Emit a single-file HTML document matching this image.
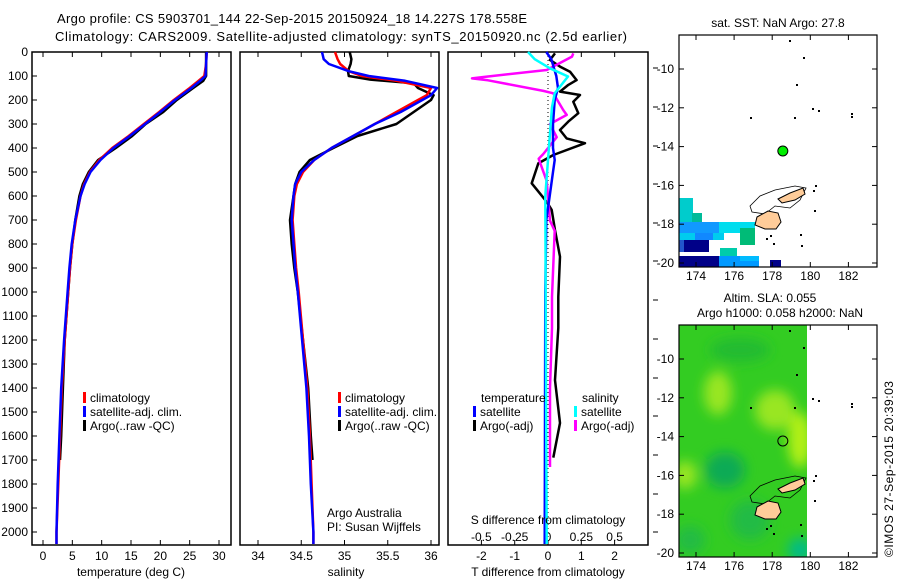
<!DOCTYPE html>
<html><head><meta charset="utf-8"><style>
html,body{margin:0;padding:0;background:#fff;}
svg{display:block;font-family:"Liberation Sans",sans-serif;}
</style></head><body>
<svg id="fig" width="900" height="580" viewBox="0 0 900 580" xmlns="http://www.w3.org/2000/svg">
<rect width="900" height="580" fill="#fff"/>
<text x="57" y="23" font-size="13" textLength="470">Argo profile: CS 5903701_144 22-Sep-2015 20150924_18 14.227S 178.558E</text>
<text x="55" y="41" font-size="13" textLength="572">Climatology: CARS2009. Satellite-adjusted climatology: synTS_20150920.nc (2.5d earlier)</text>
<g id="p1"></g>
<g id="p2"></g>
<g id="p3"></g>
<g id="m1"></g>
<g id="m2"></g>
<text transform="translate(893,557) rotate(-90)" font-size="12" textLength="176">©IMOS 27-Sep-2015 20:39:03</text>
</svg>
<script>
// ---- data ----
const depthClim = [0,50,100,120,150,200,250,300,350,400,450,500,550,600,700,800,900,1000,1200,1400,1600,1800,2000,2050];
const tempClim  = [27.9,27.8,27.5,26.5,25,22.3,19.8,17.2,14.6,11.8,9.6,8.0,7.0,6.4,5.6,5.0,4.6,4.3,3.7,3.2,2.9,2.6,2.3,2.3];
const tempSat   = [27.9,27.8,27.7,26.8,25.3,22.5,20,17.4,14.8,12,9.8,8.1,7.1,6.4,5.5,4.9,4.5,4.2,3.6,3.1,2.8,2.5,2.3,2.3];
const depthArgo = [0,50,100,120,150,200,250,300,350,400,450,500,550,600,700,800,900,1000,1200,1400,1600,1700];
const tempArgo  = [27.8,27.8,27.8,27.3,25.6,22.8,20.5,17.5,15.2,12.4,9.4,7.8,6.8,6.2,5.5,5.0,4.6,4.3,3.7,3.4,3.1,2.9];
const depthS    = [0,30,50,80,100,120,150,180,200,250,300,350,400,450,500,550,600,700,800,900,1000,1200,1400,1600,1800,2000,2050];
const salClim   = [34.89,34.92,34.95,35.05,35.2,35.6,36.0,35.95,35.85,35.6,35.35,35.1,34.85,34.65,34.52,34.45,34.42,34.4,34.42,34.44,34.47,34.52,34.57,34.6,34.62,34.64,34.64];
const salSat    = [34.74,34.76,34.82,35.05,35.28,35.7,36.07,36.0,35.9,35.65,35.35,35.1,34.85,34.65,34.5,34.43,34.41,34.39,34.41,34.43,34.46,34.51,34.56,34.59,34.61,34.64,34.64];
const depthSA   = [0,30,50,80,100,115,130,150,180,200,250,300,350,400,450,500,550,600,700,800,900,1000,1200,1400,1600,1700];
const salArgo   = [35.06,35.08,35.07,35.04,35.05,35.3,35.8,35.85,36.03,36.0,35.8,35.6,35.15,34.87,34.6,34.48,34.43,34.41,34.37,34.39,34.42,34.46,34.52,34.58,34.61,34.63];
const depthDT   = [6,33,61,82,117,137,165,179,207,255,290,325,360,380,429,464,547,624,658,742,853,1020,1150,1367,1546,1690];
const dTArgo    = [0.21,0.06,0.36,0.66,0.86,0.61,0.36,0.96,0.76,0.91,0.61,0.36,0.56,1.11,0.16,-0.29,-0.49,-0.04,0.11,0.21,0.36,0.31,0.31,0.21,0.36,0.16];
const depthDTS  = [0,30,100,150,200,300,400,450,500,600,700,1000,2050];
const dTSat     = [-0.05,0.1,0.25,0.3,0.2,0.15,0.15,0.2,0.15,0.05,-0.05,-0.08,-0.1];
const depthDSS  = [0,30,68,102,172,230,300,600,2050];
const dSSat     = [-0.15,-0.1,0.015,0.15,0.05,0.03,0.02,-0.02,-0.01];
const depthDSA  = [6,19,75,105,110,118,162,172,242,262,300,355,425,445,537,703,745,1020,1150,1400,1729];
const dSArgo    = [0.19,0.18,-0.01,-0.5,-0.57,-0.45,-0.035,0.04,0.115,0.14,0.015,0.065,-0.035,-0.07,-0.01,0.015,0.05,0.03,0.03,0.015,0.015];
const depthTicks = [0,100,200,300,400,500,600,700,800,900,1000,1100,1200,1300,1400,1500,1600,1700,1800,1900,2000];
const tempTicks = [0,5,10,15,20,25,30];
const salTicks = [34,34.5,35,35.5,36];
const salTickLabels = ["34","34.5","35","35.5","36"];
const dTTicks = [-2,-1,0,1,2];
const dSTicks = [-0.5,-0.25,0,0.25,0.5];
const dSTickLabels = ["-0.5","-0.25","0","0.25","0.5"];
const latTicks = [-10,-12,-14,-16,-18,-20];
const lonTicks = [174,176,178,180,182];
const argoLon = 178.558, argoLat = -14.227;

// ---- scales ----
const NS="http://www.w3.org/2000/svg";
const yD = d => 52 + d*0.24;
const xT = t => 43 + t*5.867;
const xS = s => 258 + (s-34)*86.5;
const xdT = v => 548 + v*33.3;
const xdS = v => 548 + v*133.3;
function mk(parent,tag,attrs){const e=document.createElementNS(NS,tag);for(const k in attrs)e.setAttribute(k,attrs[k]);parent.appendChild(e);return e;}
function txt(parent,x,y,s,anchor,size){const t=mk(parent,'text',{x:x,y:y,'font-size':size||12,'text-anchor':anchor||'start'});t.textContent=s;return t;}
function line(parent,xs,ds,xf,color,w,name){
  const pts=xs.map((v,i)=>xf(v).toFixed(1)+','+yD(ds[i]).toFixed(1)).join(' ');
  const p=mk(parent,'polyline',{points:pts,fill:'none',stroke:color,'stroke-width':w||2.5,'stroke-linejoin':'round'});
  
  
  return p;
}
function frame(g,x0,x1){mk(g,'rect',{x:x0,y:52,width:x1-x0,height:493,fill:'none',stroke:'#000','stroke-width':1.5});}

// panel 1
const p1=document.getElementById('p1');
frame(p1,32,231);
depthTicks.forEach(d=>{mk(p1,'line',{x1:32,x2:37,y1:yD(d),y2:yD(d),stroke:'#000'});const t=txt(p1,28,yD(d)+4,String(d),'end');});
tempTicks.forEach(v=>{mk(p1,'line',{x1:xT(v),x2:xT(v),y1:52,y2:57,stroke:'#000'});mk(p1,'line',{x1:xT(v),x2:xT(v),y1:545,y2:540,stroke:'#000'});const t=txt(p1,xT(v),560,String(v),'middle');});
line(p1,tempArgo,depthArgo,xT,'#000',2.5,'temp-argo-line');
line(p1,tempClim,depthClim,xT,'#f00',2.5,'temp-clim-line');
line(p1,tempSat,depthClim,xT,'#00f',2.5,'temp-sat-line');
{const t=txt(p1,131,576,'temperature (deg C)','middle');}
function legend(g,x,y,items){items.forEach((it,i)=>{const yy=y+i*14;mk(g,'rect',{x:x,y:yy-10,width:3,height:11,fill:it[1]});const t=txt(g,x+7,yy,it[0]);});}
legend(p1,83,402,[['climatology','#f00'],['satellite-adj. clim.','#00f'],['Argo(..raw -QC)','#000']]);

// panel 2
const p2=document.getElementById('p2');
frame(p2,240,439);
salTicks.forEach((v,i)=>{mk(p2,'line',{x1:xS(v),x2:xS(v),y1:52,y2:57,stroke:'#000'});mk(p2,'line',{x1:xS(v),x2:xS(v),y1:545,y2:540,stroke:'#000'});const t=txt(p2,xS(v),560,salTickLabels[i],'middle');});
line(p2,salArgo,depthSA,xS,'#000',2.5,'sal-argo-line');
line(p2,salClim,depthS,xS,'#f00',2.5,'sal-clim-line');
line(p2,salSat,depthS,xS,'#00f',2.5,'sal-sat-line');
{const t=txt(p2,346,576,'salinity','middle');}
legend(p2,338,402,[['climatology','#f00'],['satellite-adj. clim.','#00f'],['Argo(..raw -QC)','#000']]);
{const t=txt(p2,327,517,'Argo Australia');
 const t2=txt(p2,327,531,'PI: Susan Wijffels');}

// panel 3
const p3=document.getElementById('p3');
frame(p3,448,648);
mk(p3,'line',{x1:548,x2:548,y1:52,y2:545,stroke:'#000','stroke-dasharray':'1,3'});
dTTicks.forEach(v=>{mk(p3,'line',{x1:xdT(v),x2:xdT(v),y1:545,y2:540,stroke:'#000'});const t=txt(p3,xdT(v),560,String(v),'middle');});
dSTicks.forEach((v,i)=>{mk(p3,'line',{x1:xdS(v),x2:xdS(v),y1:52,y2:57,stroke:'#000'});const t=txt(p3,xdS(v),541,dSTickLabels[i],'middle');});
[68,107,146,184,223,261,300,339,378,416,455,494,532].forEach(y=>mk(p3,'line',{x1:653,x2:658,y1:y,y2:y,stroke:'#000'}));
line(p3,dTArgo,depthDT,xdT,'#000',2.5,'tdiff-argo-line');
line(p3,dSArgo,depthDSA,xdS,'#f0f',2.5,'sdiff-argo-line');
line(p3,dTSat,depthDTS,xdT,'#00f',2.5,'tdiff-sat-line');
line(p3,dSSat,depthDSS,xdS,'#0ff',2.5,'sdiff-sat-line');
{const t=txt(p3,548,524,'S difference from climatology','middle');
 const t2=txt(p3,548,576,'T difference from climatology','middle');
 const t3=txt(p3,481,402,'temperature');
 const t4=txt(p3,582,402,'salinity');}
legend(p3,473,416,[['satellite','#00f'],['Argo(-adj)','#000']]);
legend(p3,574,416,[['satellite','#0ff'],['Argo(-adj)','#f0f']]);

// maps
const lonX = lo => 696 + (lo-174)*19.05;
function latY(la,top){return top+34 + (-10-la)*19.4;}
function coast(g,top){
  const o=top-35;
  mk(g,'path',{d:`M750 ${206+o} L760 ${196+o} L775 ${190+o} L795 ${186+o} L806 ${188+o} L800 ${200+o} L790 ${208+o} L775 ${206+o} L765 ${214+o} L752 ${212+o} Z`,fill:'none',stroke:'#000','stroke-width':0.8});
  mk(g,'path',{d:`M757 ${217+o} L768 ${211+o} L778 ${213+o} L781 ${222+o} L776 ${229+o} L765 ${229+o} L755 ${225+o} Z`,fill:'#ffcc99',stroke:'#000','stroke-width':1});
  mk(g,'path',{d:`M778 ${199+o} L790 ${193+o} L803 ${188+o} L805 ${194+o} L795 ${200+o} L782 ${203+o} Z`,fill:'#ffcc99',stroke:'#000','stroke-width':1});
  [[789,40],[803,57],[796,84],[794,117],[750,117],[812,108],[818,110],[851,113],[851,116],[766,238],[773,243],[800,234],[801,245],[813,190],[815,185],[814,210],[770,235]].forEach(p=>mk(g,'rect',{x:p[0],y:p[1]+o,width:2,height:2,fill:'#000'}));
}
function mapAxes(g,top){
  const bot=top+232;
  mk(g,'rect',{x:679,y:top,width:198,height:232,fill:'none',stroke:'#000','stroke-width':1.2});
  latTicks.forEach(la=>{const y=latY(la,top);mk(g,'line',{x1:679,x2:684,y1:y,y2:y,stroke:'#000'});mk(g,'line',{x1:872,x2:877,y1:y,y2:y,stroke:'#000'});const t=txt(g,674,y+4,String(la),'end');});
  lonTicks.forEach(lo=>{const x=lonX(lo);mk(g,'line',{x1:x,x2:x,y1:top,y2:top+5,stroke:'#000'});mk(g,'line',{x1:x,x2:x,y1:bot,y2:bot-5,stroke:'#000'});const t=txt(g,x,bot+13,String(lo),'middle');});
}
const m1=document.getElementById('m1');
[[679,198,14,24,'#00cccc'],[692,213,10,9,'#00bb99'],[679,222,40,11,'#1199ff'],[719,222,36,11,'#00ddee'],[740,228,15,17,'#00bb77'],[679,233,45,7,'#00ccee'],[695,233,18,7,'#1188ff'],[679,240,30,12,'#000088'],[679,240,5,12,'#2255cc'],[720,248,17,8,'#00ccaa'],[679,256,40,11,'#000088'],[719,256,40,11,'#0099ff'],[740,256,19,5,'#00bbff'],[770,260,11,7,'#000088']].forEach(r=>mk(m1,'rect',{x:r[0],y:r[1],width:r[2],height:r[3],fill:r[4]}));
coast(m1,35);
{const c=mk(m1,'circle',{cx:lonX(argoLon),cy:latY(argoLat,35),r:5,fill:'#00ee00',stroke:'#000','stroke-width':1});}
mapAxes(m1,35);
{const t=txt(m1,778,27,'sat. SST: NaN Argo: 27.8','middle');}

const m2=document.getElementById('m2');
mk(m2,'defs',{}).innerHTML='<filter id="bl"><feGaussianBlur stdDeviation="6"/></filter><clipPath id="cp"><rect x="679" y="325" width="128" height="232"/></clipPath>';
const gg=mk(m2,'g',{'clip-path':'url(#cp)'});
mk(gg,'rect',{x:679,y:325,width:128,height:232,fill:'#33cc22'});
const gb=mk(gg,'g',{filter:'url(#bl)'});
[[718,393,14,22,'#99e622'],[775,410,20,20,'#99e622'],[800,440,12,28,'#b3f019'],[685,475,12,14,'#99e622'],[725,470,20,18,'#11aa55'],[800,550,12,12,'#00bb88'],[750,520,20,20,'#22bb44'],[690,540,15,14,'#22bb44'],[740,350,30,12,'#22bb33']].forEach(e=>mk(gb,'ellipse',{cx:e[0],cy:e[1],rx:e[2],ry:e[3],fill:e[4]}));
coast(m2,325);
{const c=mk(m2,'circle',{cx:lonX(argoLon),cy:latY(argoLat,325),r:5,fill:'none',stroke:'#000','stroke-width':1});}
mapAxes(m2,325);
{const t=txt(m2,770,302,'Altim. SLA: 0.055','middle');
 const t2=txt(m2,780,317,'Argo h1000: 0.058 h2000: NaN','middle');}
</script>
</body></html>
